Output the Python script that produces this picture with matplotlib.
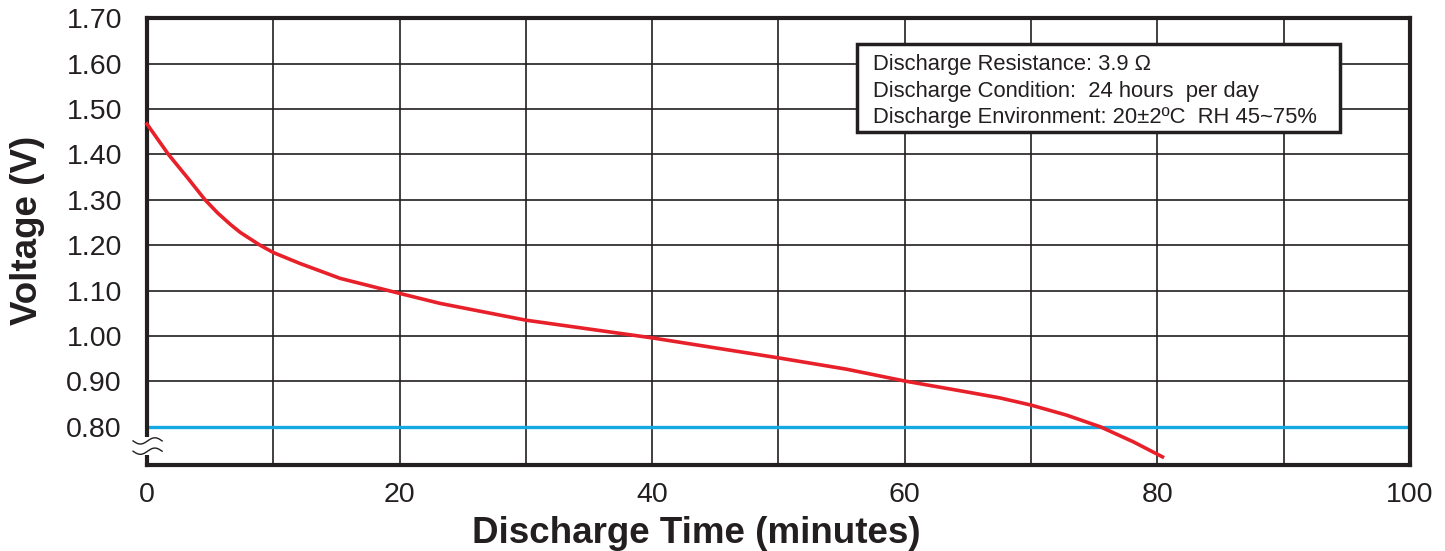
import numpy as np
import matplotlib
matplotlib.use("Agg")
import matplotlib.pyplot as plt
from matplotlib.patches import Rectangle

plt.rcParams["font.family"] = ["Liberation Sans", "DejaVu Sans"]

# discharge curve
time_min = [0, 1.7, 3.2, 4.6, 5.6, 6.6, 7.4, 8.9, 10, 12.1, 15.3, 20, 23.2,
            30, 40, 50, 55.4, 60, 64.9, 67.5, 70, 72.8, 75.5, 78.1, 80.4]
voltage = [1.467, 1.40, 1.349, 1.30, 1.271, 1.246, 1.228, 1.201, 1.184,
           1.160, 1.127, 1.094, 1.072, 1.035, 0.996, 0.952, 0.927, 0.901,
           0.877, 0.864, 0.848, 0.826, 0.80, 0.767, 0.734]
cutoff_v = 0.80

x_ticks = [0, 20, 40, 60, 80, 100]
y_ticks = [0.80, 0.90, 1.00, 1.10, 1.20, 1.30, 1.40, 1.50, 1.60, 1.70]
y_ticklabels = ["%.2f" % v for v in y_ticks]

info_lines = [
    "Discharge Resistance: 3.9 \u03a9",
    "Discharge Condition:  24 hours  per day",
    "Discharge Environment: 20\u00b12\u00baC  RH 45~75%",
]

ink = "#231f20"

fig = plt.figure(figsize=(14.45, 5.51), dpi=100)
ax = fig.add_axes([0.1017, 0.156, 0.8741, 0.811])

ax.set_xlim(0, 100)
ax.set_ylim(0.716, 1.70)

# grid every 10 minutes / 0.1 V
for gx in np.arange(10, 100, 10):
    ax.axvline(gx, color=ink, lw=1.2, zorder=1)
for gy in y_ticks[1:-1]:
    ax.axhline(gy, color=ink, lw=1.2, zorder=1)

ax.axhline(cutoff_v, color="#14a9e3", lw=2.4, zorder=2)
ax.plot(time_min, voltage, color="#e8202a", lw=2.6, zorder=3, clip_on=False,
        solid_joinstyle="round")

ax.set_xticks(x_ticks)
ax.set_yticks(y_ticks)
ax.set_yticklabels(y_ticklabels)
ax.tick_params(axis="both", length=0, labelsize=20.5, colors=ink)
ax.tick_params(axis="y", pad=18)
ax.tick_params(axis="x", pad=12)

for sp in ax.spines.values():
    sp.set_linewidth(3)
    sp.set_color(ink)

ax.set_xlabel("Discharge Time (minutes)", fontsize=26.5, fontweight="bold", color=ink)
ax.xaxis.set_label_coords(0.435, -0.113)
ax.set_ylabel("Voltage (V)", fontsize=26.5, fontweight="bold", color=ink)
ax.yaxis.set_label_coords(-0.081, 0.525)

# axis break mark
wx = np.linspace(-0.011, 0.012, 40)
ax.add_patch(Rectangle((-0.004, 0.022), 0.008, 0.04, transform=ax.transAxes,
                       facecolor="white", edgecolor="none", zorder=5, clip_on=False))
for yb in (0.054, 0.031):
    wy = yb + 0.007 * np.sin((wx + 0.011) / 0.023 * 2 * np.pi + np.pi)
    ax.plot(wx, wy, color=ink, lw=1.0, transform=ax.transAxes,
            clip_on=False, zorder=6)

# info box
ax.add_patch(Rectangle((0.562, 0.745), 0.3826, 0.197, transform=ax.transAxes,
                       facecolor="white", edgecolor=ink, lw=2.5, zorder=4))
for i, line in enumerate(info_lines):
    ax.text(0.575, 0.896 - i * 0.059, line, transform=ax.transAxes,
            fontsize=15.8, color=ink, va="center", ha="left", zorder=5)

fig.savefig("out.png", dpi=100)
